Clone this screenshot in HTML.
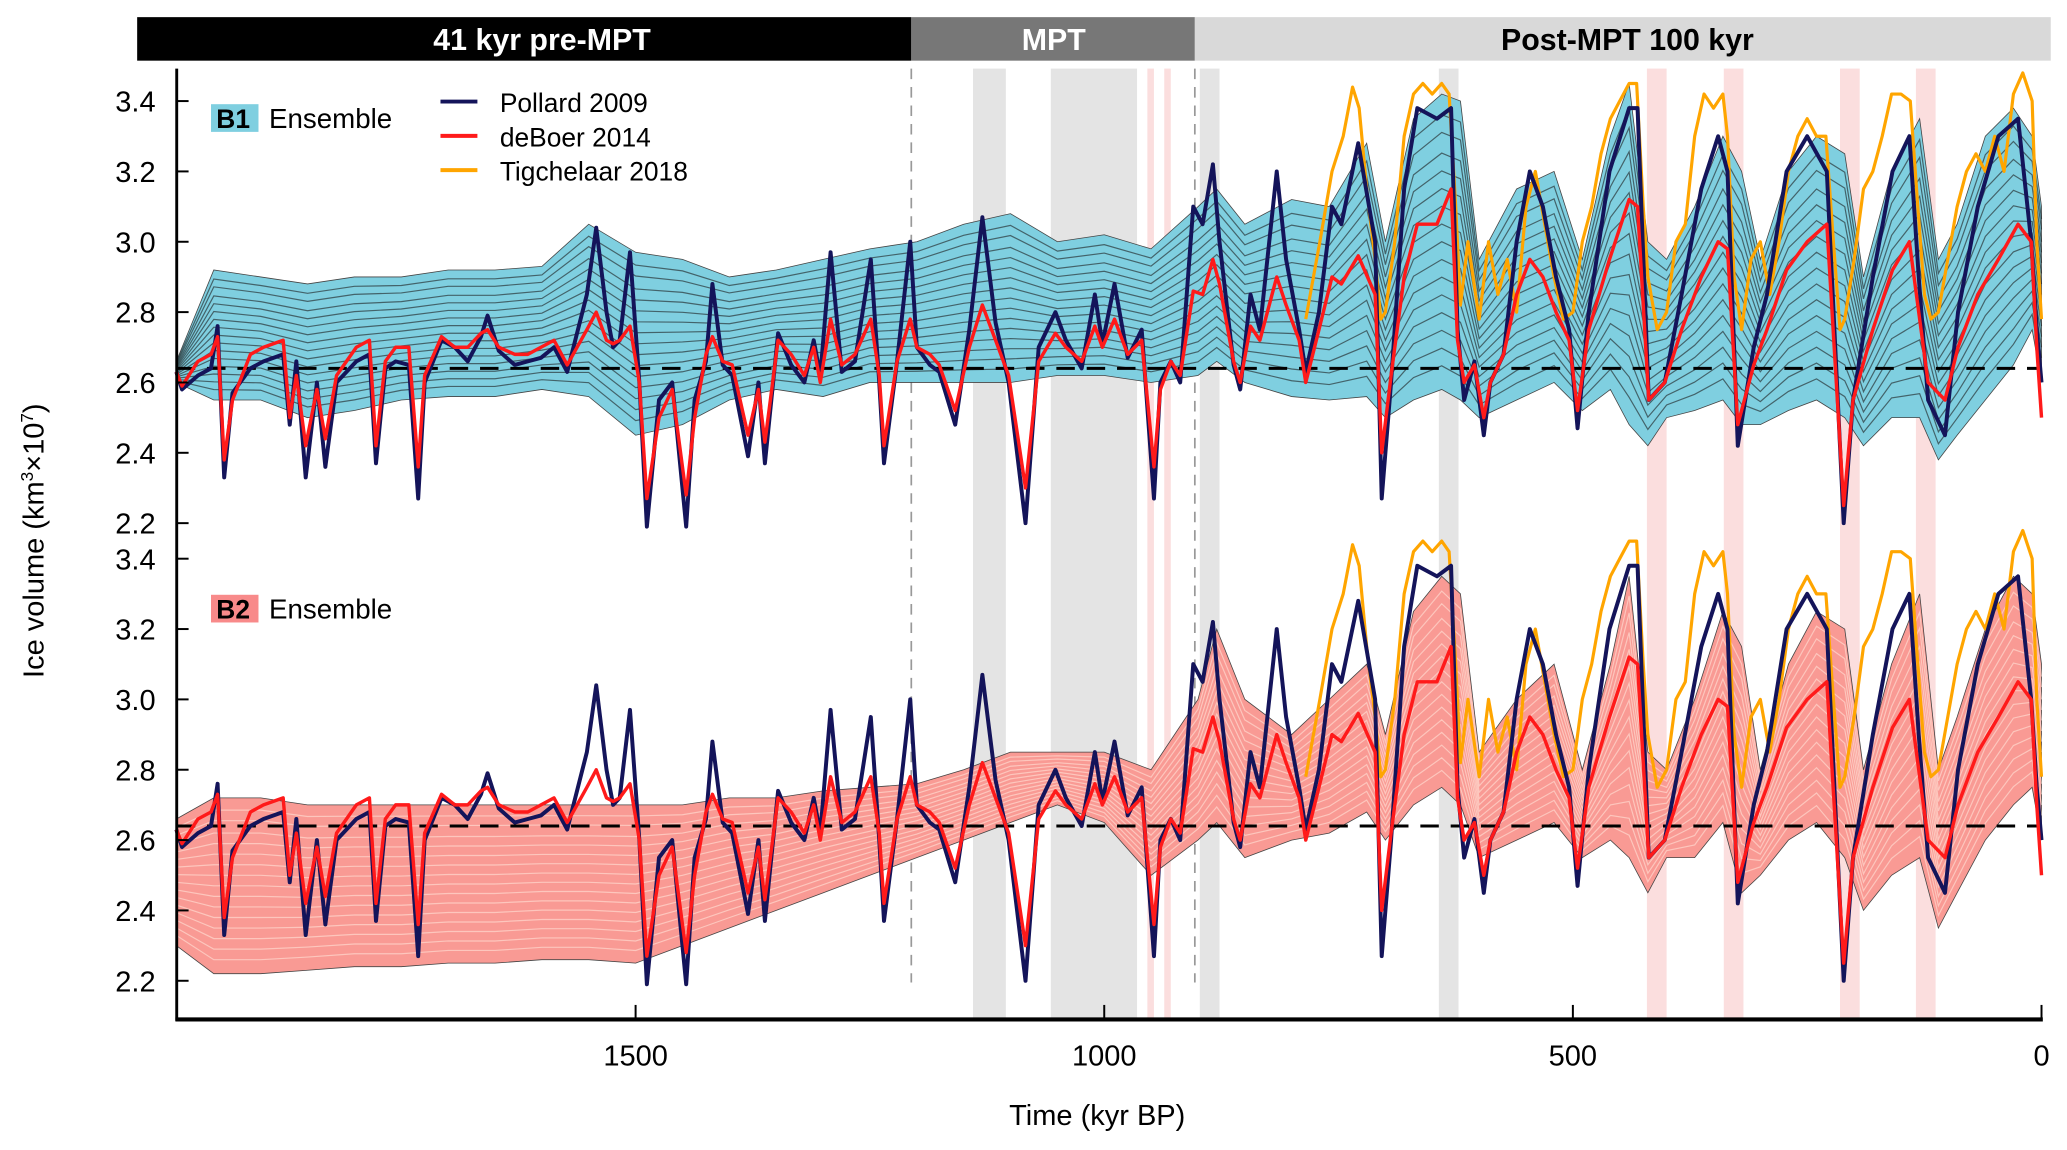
<!DOCTYPE html>
<html><head><meta charset="utf-8"><style>
html,body{margin:0;padding:0;background:#fff}
svg{display:block}
text{font-family:"Liberation Sans",Arial,sans-serif}
</style></head><body>
<svg id="chart" width="2067" height="1150" viewBox="0 0 1567 872" preserveAspectRatio="xMinYMin meet" xmlns="http://www.w3.org/2000/svg">
<g id="header">
<rect x="104" y="13" width="587" height="33" fill="#000"/>
<rect x="691" y="13" width="215" height="33" fill="#777"/>
<rect x="906" y="13" width="649" height="33" fill="#d9d9d9"/>
<text x="411" y="38" fill="#fff" font-size="23" font-weight="bold" text-anchor="middle">41 kyr pre-MPT</text>
<text x="799" y="38" fill="#fff" font-size="23" font-weight="bold" text-anchor="middle">MPT</text>
<text x="1234" y="38" fill="#000" font-size="23" font-weight="bold" text-anchor="middle">Post-MPT 100 kyr</text>
</g>
<g id="strips"></g>
<g id="bands"></g>
<g id="refs"></g>
<g id="series"></g>
<g id="axes"></g>
<g id="legend">
<rect x="160" y="79" width="36" height="21" fill="#7fcfe0"/>
<text x="164" y="97" font-size="20" font-weight="bold">B1</text>
<text x="204" y="97" font-size="21">Ensemble</text>
<rect x="160" y="451" width="36" height="21" fill="#f88a8a"/>
<text x="164" y="469" font-size="20" font-weight="bold">B2</text>
<text x="204" y="469" font-size="21">Ensemble</text>
<line x1="334" y1="77" x2="362" y2="77" stroke="#14145a" stroke-width="3"/>
<text x="379" y="85" font-size="20">Pollard 2009</text>
<line x1="334" y1="103" x2="362" y2="103" stroke="#ff1a1a" stroke-width="3"/>
<text x="379" y="111" font-size="20">deBoer 2014</text>
<line x1="334" y1="129" x2="362" y2="129" stroke="#ffa500" stroke-width="3"/>
<text x="379" y="137" font-size="20">Tigchelaar 2018</text>
</g>
<text x="832" y="853" font-size="22" text-anchor="middle">Time (kyr BP)</text>
<text transform="translate(33,410) rotate(-90)" font-size="22" text-anchor="middle">Ice volume (km<tspan font-size="13" dy="-8">3</tspan><tspan dy="8">×10</tspan><tspan font-size="13" dy="-8">7</tspan><tspan dy="8">)</tspan></text>
</svg>
<script>
const tP=[1990,1984,1967,1953,1946,1939,1930,1911,1897,1876,1869,1862,1852,1840,1831,1819,1798,1784,1777,1767,1756,1742,1732,1725,1707,1693,1679,1665,1658,1646,1629,1615,1601,1587,1573,1552,1542,1531,1524,1517,1506,1496,1488,1475,1461,1446,1437,1425,1418,1407,1397,1380,1369,1362,1348,1334,1320,1310,1303,1292,1280,1266,1249,1240,1235,1221,1207,1200,1186,1176,1159,1144,1130,1116,1102,1084,1070,1052,1041,1024,1010,1002,989,975,960,947,940,929,919,905,895,884,877,862,855,844,834,816,806,792,785,771,757,747,729,711,704,694,680,666,645,630,623,616,605,595,588,574,560,546,532,518,504,495,483,461,440,431,419,402,384,363,345,335,324,307,293,272,250,229,211,201,180,159,141,131,121,103,89,68,46,25,11,5,0];
const pollard=[2.63,2.58,2.62,2.64,2.76,2.33,2.57,2.64,2.66,2.68,2.48,2.66,2.33,2.6,2.36,2.6,2.66,2.68,2.37,2.64,2.66,2.65,2.27,2.6,2.72,2.7,2.66,2.73,2.79,2.69,2.65,2.66,2.67,2.7,2.63,2.85,3.04,2.8,2.7,2.72,2.97,2.6,2.19,2.55,2.6,2.19,2.55,2.66,2.88,2.65,2.62,2.39,2.6,2.37,2.74,2.65,2.6,2.72,2.62,2.97,2.63,2.66,2.95,2.6,2.37,2.66,3.0,2.7,2.65,2.63,2.48,2.75,3.07,2.77,2.6,2.2,2.7,2.8,2.72,2.64,2.85,2.71,2.88,2.67,2.75,2.27,2.6,2.66,2.6,3.1,3.05,3.22,3.0,2.65,2.58,2.85,2.75,3.2,2.95,2.75,2.63,2.8,3.1,3.05,3.28,3.0,2.27,2.6,3.15,3.38,3.35,3.38,2.75,2.55,2.66,2.45,2.6,2.68,3.0,3.2,3.1,2.9,2.75,2.47,2.8,3.2,3.38,3.38,2.55,2.6,2.85,3.15,3.3,3.2,2.42,2.7,2.85,3.2,3.3,3.2,2.2,2.55,2.9,3.2,3.3,2.9,2.55,2.45,2.8,3.1,3.3,3.35,3.0,2.75,2.6];
const deboer=[2.63,2.59,2.66,2.68,2.73,2.38,2.55,2.68,2.7,2.72,2.5,2.62,2.42,2.58,2.44,2.62,2.7,2.72,2.42,2.66,2.7,2.7,2.36,2.62,2.73,2.7,2.7,2.74,2.75,2.7,2.68,2.68,2.7,2.72,2.65,2.75,2.8,2.72,2.71,2.72,2.76,2.6,2.27,2.5,2.58,2.28,2.5,2.68,2.73,2.66,2.65,2.45,2.58,2.43,2.72,2.68,2.62,2.7,2.6,2.78,2.65,2.68,2.78,2.62,2.42,2.66,2.78,2.7,2.68,2.65,2.52,2.7,2.82,2.72,2.62,2.3,2.66,2.74,2.7,2.66,2.76,2.7,2.78,2.68,2.72,2.36,2.58,2.66,2.62,2.86,2.85,2.95,2.88,2.66,2.6,2.76,2.72,2.9,2.82,2.72,2.6,2.75,2.9,2.88,2.96,2.85,2.4,2.62,2.9,3.05,3.05,3.15,2.72,2.6,2.65,2.5,2.6,2.68,2.85,2.95,2.9,2.8,2.72,2.52,2.75,2.95,3.12,3.1,2.55,2.6,2.75,2.9,3.0,2.98,2.48,2.65,2.75,2.92,3.0,3.05,2.25,2.55,2.75,2.92,3.0,2.8,2.6,2.55,2.7,2.85,2.95,3.05,3.0,2.7,2.5];
const tT=[785,770,757,745,735,728,720,711,705,700,690,680,670,660,650,640,632,625,620,612,600,590,580,570,560,550,540,530,520,510,500,490,480,470,460,450,440,432,425,420,410,400,390,380,370,360,350,340,335,328,320,310,300,290,280,270,260,250,240,230,222,215,210,200,190,180,170,160,150,140,132,125,118,110,100,90,80,70,60,50,40,30,20,10,5,0];
const tigchelaar=[2.78,3.0,3.2,3.3,3.44,3.38,3.15,2.95,2.78,2.8,3.0,3.3,3.42,3.45,3.42,3.45,3.42,3.1,2.82,3.0,2.78,3.0,2.85,2.95,2.8,3.1,3.2,3.05,2.9,2.78,2.8,3.0,3.1,3.25,3.35,3.4,3.45,3.45,3.1,2.9,2.75,2.8,3.0,3.05,3.3,3.42,3.38,3.42,3.3,2.9,2.75,2.95,3.0,2.85,3.0,3.2,3.3,3.35,3.3,3.3,3.0,2.75,2.78,2.95,3.15,3.2,3.3,3.42,3.42,3.4,3.1,2.85,2.78,2.8,2.95,3.1,3.2,3.25,3.2,3.3,3.2,3.42,3.48,3.4,3.0,2.78];
const tB=[1990,1950,1900,1850,1800,1750,1700,1650,1600,1550,1500,1450,1400,1350,1300,1250,1200,1150,1100,1050,1000,950,900,880,850,800,760,720,700,670,640,620,600,560,520,490,460,440,420,400,370,340,320,300,270,240,210,190,160,130,110,90,60,30,10,0];
const b1Upper=[2.66,2.92,2.9,2.88,2.9,2.9,2.92,2.92,2.93,3.05,2.97,2.95,2.9,2.92,2.95,2.98,3.0,3.05,3.08,3.0,3.02,2.98,3.1,3.15,3.05,3.12,3.1,3.28,3.0,3.35,3.42,3.4,2.95,3.15,3.2,2.95,3.3,3.45,3.0,2.95,3.1,3.3,3.2,2.95,3.2,3.3,3.25,2.9,3.2,3.35,2.95,3.05,3.3,3.38,3.3,3.1];
const b1Lower=[2.6,2.55,2.55,2.5,2.52,2.55,2.56,2.56,2.58,2.56,2.45,2.48,2.55,2.58,2.56,2.6,2.6,2.6,2.6,2.62,2.62,2.6,2.62,2.66,2.6,2.56,2.55,2.56,2.5,2.55,2.58,2.55,2.5,2.55,2.6,2.52,2.58,2.48,2.42,2.5,2.52,2.55,2.48,2.48,2.52,2.55,2.5,2.42,2.5,2.5,2.38,2.45,2.55,2.65,2.75,2.6];
const b2Upper=[2.66,2.72,2.72,2.7,2.7,2.7,2.7,2.7,2.7,2.7,2.7,2.7,2.72,2.72,2.74,2.75,2.76,2.8,2.85,2.85,2.85,2.8,3.0,3.2,3.0,2.9,3.0,3.1,2.9,3.25,3.35,3.3,2.85,3.0,3.1,2.8,3.1,3.35,2.85,2.8,3.0,3.25,3.15,2.8,3.1,3.25,3.2,2.8,3.1,3.3,2.8,2.95,3.2,3.35,3.3,3.1];
const b2Lower=[2.3,2.22,2.22,2.23,2.24,2.24,2.25,2.25,2.26,2.26,2.25,2.3,2.35,2.4,2.45,2.5,2.55,2.6,2.65,2.7,2.65,2.5,2.6,2.65,2.55,2.6,2.62,2.68,2.6,2.7,2.75,2.7,2.55,2.6,2.65,2.55,2.6,2.55,2.45,2.55,2.55,2.65,2.45,2.5,2.6,2.65,2.55,2.4,2.5,2.55,2.35,2.45,2.6,2.7,2.75,2.6];
const yTicks=[3.4,3.2,3.0,2.8,2.6,2.4,2.2];
const xTicks=[1500,1000,500,0];
const refLevel=2.64;
const grayStrips=[[1140,1105],[1057,965],[898,877],[643,622]];
const pinkStrips=[[954,947],[936,929],[421,400],[339,318],[215,194],[134,113]];

const NS='http://www.w3.org/2000/svg';
const X=t=>1548-t*0.7107;
const YT=v=>290-(v-2.6)*266.7;
const YB=v=>637-(v-2.6)*266.7;
function mk(tag,attrs,parent){const e=document.createElementNS(NS,tag);for(const k in attrs)e.setAttribute(k,attrs[k]);parent.appendChild(e);return e;}
function pts(ts,vs,Y){return ts.map((t,i)=>X(t).toFixed(1)+','+Y(vs[i]).toFixed(1)).join(' ');}

const strips=document.getElementById('strips');
grayStrips.forEach(s=>{const r=mk('rect',{x:X(s[0]),y:52,width:X(s[1])-X(s[0]),height:721,fill:'#e4e4e4'},strips);

});
pinkStrips.forEach(s=>{const r=mk('rect',{x:X(s[0]),y:52,width:X(s[1])-X(s[0]),height:721,fill:'#fbdede'},strips);

});
const vl1=mk('line',{x1:691,y1:52,x2:691,y2:745,stroke:'#999','stroke-width':1.3,'stroke-dasharray':'8,6'},strips);


const vl2=mk('line',{x1:906,y1:52,x2:906,y2:745,stroke:'#999','stroke-width':1.3,'stroke-dasharray':'8,6'},strips);



const bands=document.getElementById('bands');
function band(up,lo,Y,fill,lineCol,op,name){
  const p=pts(tB,up,Y)+' '+pts(tB.slice().reverse(),lo.slice().reverse(),Y);
  const b=mk('polygon',{points:p,fill:fill,stroke:'#444','stroke-width':0.6},bands);
  
  
  [0.08,0.14,0.2,0.26,0.32,0.38,0.44,0.5,0.56,0.62,0.68,0.74,0.8,0.87,0.93].forEach(f=>{
    const vs=up.map((u,i)=>lo[i]+f*(u-lo[i]));
    const l=mk('polyline',{points:pts(tB,vs,Y),fill:'none',stroke:lineCol,'stroke-width':0.9,opacity:op},bands);
    
    
  });
}
band(b1Upper,b1Lower,YT,'#7fcfe0','#1a1a1a',0.6,'b1-ensemble-band');
band(b2Upper,b2Lower,YB,'#f99a94','#ffe4d8',0.6,'b2-ensemble-band');

const refs=document.getElementById('refs');
[YT,YB].forEach((Y,i)=>{const l=mk('line',{x1:134,y1:Y(refLevel),x2:1548,y2:Y(refLevel),stroke:'#000','stroke-width':2.2,'stroke-dasharray':'14,9'},refs);

});

const ser=document.getElementById('series');
[['top',YT],['bottom',YB]].forEach(([nm,Y])=>{
  const a=mk('polyline',{points:pts(tT,tigchelaar,Y),fill:'none',stroke:'#ffa500','stroke-width':2.4,'stroke-linejoin':'round'},ser);
  
  
  const b=mk('polyline',{points:pts(tP,pollard,Y),fill:'none',stroke:'#14145a','stroke-width':3,'stroke-linejoin':'round'},ser);
  
  
  const c=mk('polyline',{points:pts(tP,deboer,Y),fill:'none',stroke:'#ff1a1a','stroke-width':2.6,'stroke-linejoin':'round'},ser);
  
  
});

const ax=document.getElementById('axes');
const ya=mk('line',{x1:134,y1:52,x2:134,y2:774,stroke:'#000','stroke-width':2.2},ax);


const xa=mk('line',{x1:133,y1:773,x2:1549,y2:773,stroke:'#000','stroke-width':3.2},ax);


[YT,YB].forEach(Y=>{yTicks.forEach(v=>{
  const tk=mk('line',{x1:134,y1:Y(v),x2:143,y2:Y(v),stroke:'#000','stroke-width':1.5},ax);
  
  
  const tx=mk('text',{x:118,y:Y(v)+8,'font-size':22,'text-anchor':'end'},ax);
  tx.textContent=v.toFixed(1);
  
  
});});
xTicks.forEach(t=>{
  const tk=mk('line',{x1:X(t),y1:773,x2:X(t),y2:762,stroke:'#000','stroke-width':1.5},ax);
  
  
  const tx=mk('text',{x:X(t),y:808,'font-size':22,'text-anchor':'middle'},ax);
  tx.textContent=String(t);
  
  
});
</script>
</body></html>
